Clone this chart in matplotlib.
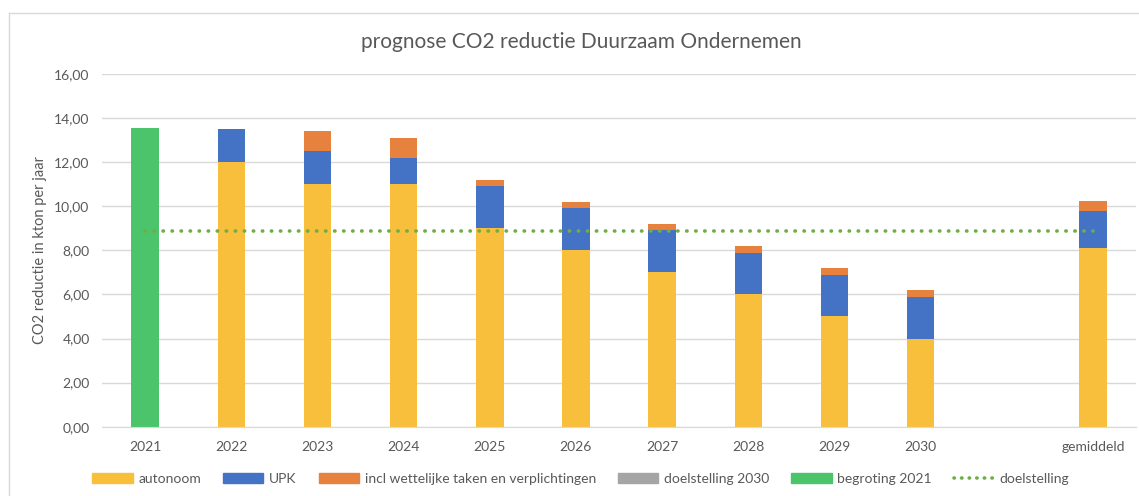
import matplotlib
matplotlib.use("Agg")
import matplotlib.pyplot as plt
import numpy as np
from matplotlib.lines import Line2D

plt.rcParams['font.family'] = ['Lato', 'DejaVu Sans']

# data (kton per jaar)
categories = ["2021", "2022", "2023", "2024", "2025", "2026", "2027", "2028", "2029", "2030", "", "gemiddeld"]
autonoom = [0, 12.0, 11.0, 11.0, 9.0, 8.0, 7.0, 6.0, 5.0, 4.0, 0, 8.1]
upk = [0, 1.5, 1.5, 1.2, 1.9, 1.9, 1.9, 1.9, 1.9, 1.9, 0, 1.7]
wettelijk = [0, 0, 0.9, 0.9, 0.3, 0.3, 0.3, 0.3, 0.3, 0.3, 0, 0.42]
doelstelling_2030 = [0, 0, 0, 0, 0, 0, 0, 0, 0, 0, 0, 0]
begroting_2021 = [13.55, 0, 0, 0, 0, 0, 0, 0, 0, 0, 0, 0]
doelstelling = 8.88
y_ticks = [0, 2, 4, 6, 8, 10, 12, 14, 16]

c_auto = "#F8BF3C"
c_upk = "#4472C4"
c_wet = "#E6823D"
c_gray = "#A5A5A5"
c_green = "#4CC46B"
c_line = "#70AD47"
txt = "#595959"

fig = plt.figure(figsize=(11.39, 4.96), dpi=100)
ax = fig.add_axes([0.0896, 0.1397, 0.9078, 0.7113])

x = np.arange(len(categories))
w = 0.32
b1 = np.array(autonoom)
b2 = b1 + np.array(upk)
b3 = b2 + np.array(wettelijk)
ax.bar(x, autonoom, w, color=c_auto, zorder=2)
ax.bar(x, upk, w, bottom=b1, color=c_upk, zorder=2)
ax.bar(x, wettelijk, w, bottom=b2, color=c_wet, zorder=2)
ax.bar(x, doelstelling_2030, w, bottom=b3, color=c_gray, zorder=2)
ax.bar(x, begroting_2021, w, color=c_green, zorder=2)
ax.plot([x[0], x[-1]], [doelstelling, doelstelling], color=c_line, lw=2.6,
        linestyle=(0, (0.1, 2.4)), dash_capstyle="round", zorder=3)

ax.set_xlim(-0.5, len(categories) - 0.5)
ax.set_ylim(0, 16)
ax.set_yticks(y_ticks)
ax.set_yticklabels([f"{v:.2f}".replace(".", ",") for v in y_ticks])
ax.set_xticks(x)
ax.set_xticklabels(categories)
ax.grid(axis="y", color="#D9D9D9", lw=1, zorder=0)
for s in ["top", "right", "left"]:
    ax.spines[s].set_visible(False)
ax.spines["bottom"].set_color("#D9D9D9")
ax.tick_params(axis="both", length=0, colors=txt, labelsize=10)
ax.tick_params(axis="y", pad=9)
ax.tick_params(axis="x", pad=10)
ax.set_ylabel("CO2 reductie in kton per jaar", color=txt, fontsize=10.5, labelpad=5)

fig.text(0.51, 0.915, "prognose CO2 reductie Duurzaam Ondernemen", ha="center", va="center",
         fontsize=15, color=txt)

# chart border (left and top edge visible)
fig.add_artist(Line2D([0.0075, 0.0075], [0, 0.974], transform=fig.transFigure, color="#D9D9D9", lw=1))
fig.add_artist(Line2D([0.0075, 1.0], [0.974, 0.974], transform=fig.transFigure, color="#D9D9D9", lw=1))

handles = [
    plt.Rectangle((0, 0), 1, 1, color=c_auto),
    plt.Rectangle((0, 0), 1, 1, color=c_upk),
    plt.Rectangle((0, 0), 1, 1, color=c_wet),
    plt.Rectangle((0, 0), 1, 1, color=c_gray),
    plt.Rectangle((0, 0), 1, 1, color=c_green),
    Line2D([], [], color=c_line, lw=2.6, linestyle=(0, (0.1, 2.0)), dash_capstyle="round"),
]
labels = ["autonoom", "UPK", "incl wettelijke taken en verplichtingen", "doelstelling 2030",
          "begroting 2021", "doelstelling"]
leg = fig.legend(handles, labels, loc="center", bbox_to_anchor=(0.51, 0.035), ncol=6,
                 frameon=False, fontsize=10, handlelength=2.9, handleheight=0.7,
                 handletextpad=0.4, columnspacing=1.6, labelcolor=txt)

fig.savefig("out.png", dpi=100)
